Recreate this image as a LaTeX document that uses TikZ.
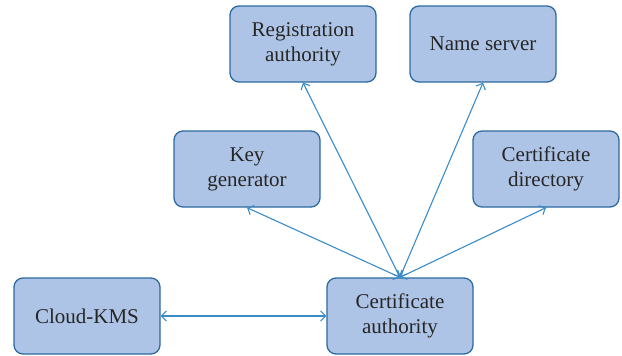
\documentclass[tikz,border=0pt]{standalone}
\usepackage{fontspec}
\setmainfont{Liberation Serif}
\usetikzlibrary{arrows.meta}
\definecolor{boxfill}{HTML}{AEC4E6}
\definecolor{boxline}{HTML}{2E6AA0}
\definecolor{arrowc}{HTML}{3A8CC8}
\begin{document}
\begin{tikzpicture}[x=1pt,y=-1pt,
  entity/.style={draw=boxline,fill=boxfill,line width=1.3pt,rounded corners=9pt,
    minimum width=146pt,minimum height=76pt,inner sep=0pt,align=center,
    font=\fontsize{21}{25}\selectfont,text=black!85},
  link/.style={draw=arrowc,line width=1.1pt,{Straight Barb[length=5pt,width=10pt]}-{Straight Barb[length=5pt,width=10pt]}}]
\useasboundingbox (0,0) rectangle (622,356);
\node[entity] (ra) at (303,44) {Registration\\authority};
\node[entity] (ns) at (483,44) {Name server};
\node[entity] (kg) at (247,169) {Key\\generator};
\node[entity] (cd) at (546,169) {Certificate\\directory};
\node[entity] (kms) at (87,316) {Cloud-KMS};
\node[entity] (ca) at (400,316) {Certificate\\authority};
\coordinate (hub) at (ca.north);
\draw[link] (ra.south) -- (hub);
\draw[link] (ns.south) -- (hub);
\draw[link] (kg.south) -- (hub);
\draw[link] (cd.south) -- (hub);
\draw[link] (kms.east) -- (ca.west);
\end{tikzpicture}
\end{document}
